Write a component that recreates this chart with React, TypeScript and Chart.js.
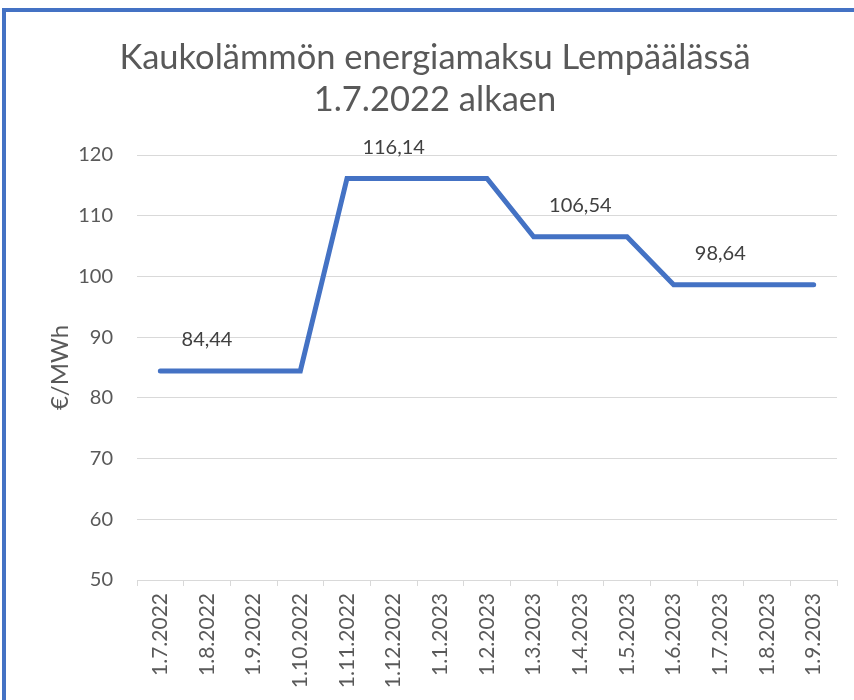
import React, { useEffect, useRef } from "react";
import { Chart, registerables } from "chart.js";

Chart.register(...registerables);

const categories = [
  "1.7.2022", "1.8.2022", "1.9.2022", "1.10.2022", "1.11.2022", "1.12.2022", "1.1.2023",
  "1.2.2023", "1.3.2023", "1.4.2023", "1.5.2023", "1.6.2023", "1.7.2023", "1.8.2023", "1.9.2023",
];
const prices = [
  84.44, 84.44, 84.44, 84.44, 116.14, 116.14, 116.14, 116.14,
  106.54, 106.54, 106.54, 98.64, 98.64, 98.64, 98.64,
];
const labelledIndices = [1, 5, 9, 12];
const titleLines = ["Kaukolämmön energiamaksu Lempäälässä", "1.7.2022 alkaen"];
const yAxisTitle = "€/MWh";

const FONT = "Lato, 'Open Sans', sans-serif";

const dataLabelPlugin = {
  id: "dataLabels",
  afterDatasetsDraw(chart: any) {
    const meta = chart.getDatasetMeta(0);
    const ctx = chart.ctx;
    ctx.save();
    ctx.font = `20px ${FONT}`;
    ctx.fillStyle = "#404040";
    ctx.textAlign = "center";
    ctx.textBaseline = "middle";
    labelledIndices.forEach((i) => {
      const pt = meta.data[i];
      const v = prices[i];
      ctx.fillText(v.toFixed(2).replace(".", ","), pt.x, pt.y - 31);
    });
    ctx.restore();
  },
};

export default function App() {
  const ref = useRef<HTMLCanvasElement | null>(null);
  useEffect(() => {
    if (!ref.current) return;
    const chart = new Chart(ref.current, {
      type: "line",
      data: {
        labels: categories,
        datasets: [
          {
            data: prices,
            borderColor: "#4472C4",
            backgroundColor: "#4472C4",
            borderWidth: 5,
            pointRadius: 0,
            borderCapStyle: "round",
            tension: 0,
          },
        ],
      },
      options: {
        animation: false,
        responsive: false,
        maintainAspectRatio: false,
        layout: { padding: { left: 33, right: 17, top: 0, bottom: 0 } },
        plugins: {
          legend: { display: false },
          tooltip: { enabled: false },
          title: {
            display: true,
            text: titleLines,
            color: "#595959",
            font: { family: FONT, size: 34.5, weight: "400", lineHeight: 42 / 34.5 },
            padding: { top: 37, bottom: 34 },
          },
        },
        scales: {
          x: {
            type: "category",
            offset: true,
            grid: {
              offset: true,
              drawOnChartArea: false,
              drawTicks: true,
              tickLength: 6,
              color: "#D9D9D9",
            },
            border: { display: true, color: "#D9D9D9", width: 1 },
            ticks: {
              autoSkip: false,
              minRotation: 90,
              maxRotation: 90,
              padding: 7,
              color: "#595959",
              font: { family: FONT, size: 21 },
            },
            afterFit(scale: any) {
              scale.height = 120;
            },
          },
          y: {
            min: 50,
            max: 120,
            ticks: {
              stepSize: 10,
              padding: 24,
              color: "#595959",
              font: { family: FONT, size: 20 },
            },
            grid: { color: "#D9D9D9", drawTicks: false, lineWidth: 1 },
            border: { display: false },
            title: {
              display: true,
              text: yAxisTitle,
              color: "#595959",
              font: { family: FONT, size: 24 },
              padding: { top: 12.6, bottom: 0 },
            },
            afterFit(scale: any) {
              scale.width = 104;
            },
          },
        },
      },
      plugins: [dataLabelPlugin],
    } as any);
    return () => chart.destroy();
  }, []);

  return (
    <div style={{ position: "absolute", left: 0, top: 0, width: 854, height: 700, background: "#fff", overflow: "hidden" }}>
      <div
        style={{
          position: "absolute",
          left: 2,
          top: 8,
          width: 852,
          height: 692,
          boxSizing: "border-box",
          borderTop: "4px solid #4472C4",
          borderLeft: "4px solid #4472C4",
        }}
      />
      <canvas ref={ref} width={854} height={700} style={{ position: "absolute", left: 0, top: 0, width: 854, height: 700 }} />
    </div>
  );
}
